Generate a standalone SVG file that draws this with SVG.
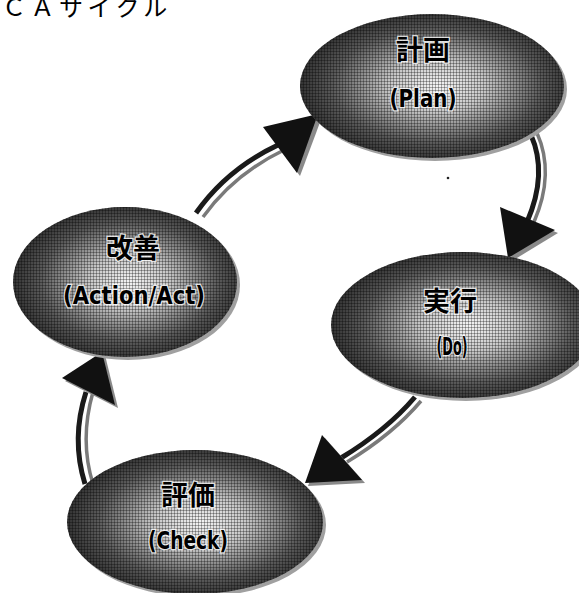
<svg xmlns="http://www.w3.org/2000/svg" width="579" height="593" viewBox="0 0 579 593">
<defs>
<radialGradient id="g" cx="0.52" cy="0.5" r="0.55">
<stop offset="0" stop-color="#f4f4f4"/>
<stop offset="0.32" stop-color="#c8c8c8"/>
<stop offset="0.72" stop-color="#5a5a5a"/>
<stop offset="1" stop-color="#2a2a2a"/>
</radialGradient>
<pattern id="hatch" width="3" height="3" patternUnits="userSpaceOnUse">
<rect x="0" y="0" width="3" height="1" fill="#000" opacity="0.3"/>
<rect x="0" y="0" width="1" height="3" fill="#000" opacity="0.3"/>
</pattern>
</defs>
<style>
.rim{fill:#a0a0a0}
.body{fill:url(#g)}
.tex{fill:url(#hatch)}
.jp{font-family:"Noto Sans CJK JP","Noto Sans",sans-serif;font-weight:bold;font-size:27px;fill:#000;stroke:#fff;stroke-width:2.5px;paint-order:stroke;stroke-opacity:0.8;text-anchor:middle}
.en{font-family:"DejaVu Sans Condensed","DejaVu Sans",sans-serif;font-weight:bold;font-size:24px;fill:#000;stroke:#fff;stroke-width:2.5px;paint-order:stroke;stroke-opacity:0.8;text-anchor:middle}
.title{font-family:"Noto Sans CJK JP",sans-serif;font-size:24px;fill:#000;letter-spacing:4.5px}
.dk{fill:none;stroke:#1a1a1a;stroke-width:5}
.gy{fill:none;stroke:#7a7a7a;stroke-width:3.5}
.head{fill:#111}
.hsh{fill:#8a8a8a}
</style>
<text class="title" x="2" y="16">ＣＡサイクル</text>
<g id="connectors">
<g id="a-act-plan">
<path class="gy" d="M203,217 Q234,174 284,150"/>
<path class="dk" d="M196,213 Q227,169 278,145"/>
<polygon class="hsh" points="266,130 322,117 300,176"/>
<polygon class="head" points="263,127 318,114 297,173"/>
</g>
<g id="a-plan-do">
<path class="gy" d="M537,133 C550,162 547,192 534,222"/>
<path class="dk" d="M531,135 C543,162 540,192 527,222"/>
<polygon class="hsh" points="503,210 558,233 512,261"/>
<polygon class="head" points="500,207 555,230 508,258"/>
</g>
<g id="a-do-check">
<path class="gy" d="M421,401 Q393,434 347,462"/>
<path class="dk" d="M415,397 Q387,430 341,458"/>
<polygon class="hsh" points="325,438 365,483 308,486"/>
<polygon class="head" points="322,435 362,480 305,483"/>
</g>
<g id="a-check-act">
<path class="gy" d="M93,484 C83,452 85,420 93,392"/>
<path class="dk" d="M85,484 C75,452 77,420 86,392"/>
<polygon class="hsh" points="65,381 118,408 105,355"/>
<polygon class="head" points="62,378 115,405 102,352"/>
</g>
<circle cx="448" cy="178" r="1.3" fill="#222"/>
</g>
<g id="plan">
<ellipse class="rim" cx="435" cy="89" rx="132" ry="72"/>
<ellipse class="body" cx="432" cy="86" rx="132" ry="72"/>
<ellipse class="tex" cx="432" cy="86" rx="132" ry="72"/>
<text class="jp" x="423" y="60">計画</text>
<text class="en" x="423" y="107" textLength="67" lengthAdjust="spacingAndGlyphs">(Plan)</text>
</g>
<g id="act">
<ellipse class="rim" cx="128" cy="285" rx="112" ry="75"/>
<ellipse class="body" cx="125" cy="282" rx="112" ry="75"/>
<ellipse class="tex" cx="125" cy="282" rx="112" ry="75"/>
<text class="jp" x="133" y="258">改善</text>
<text class="en" x="134" y="304" textLength="142" lengthAdjust="spacingAndGlyphs">(Action/Act)</text>
</g>
<g id="do">
<ellipse class="rim" cx="466" cy="328" rx="132" ry="73"/>
<ellipse class="body" cx="463" cy="325" rx="132" ry="73"/>
<ellipse class="tex" cx="463" cy="325" rx="132" ry="73"/>
<text class="jp" x="450" y="311">実行</text>
<text class="en" x="452" y="355" textLength="31" lengthAdjust="spacingAndGlyphs">(Do)</text>
</g>
<g id="check">
<ellipse class="rim" cx="198" cy="525" rx="128" ry="72"/>
<ellipse class="body" cx="195" cy="522" rx="128" ry="72"/>
<ellipse class="tex" cx="195" cy="522" rx="128" ry="72"/>
<text class="jp" x="188" y="505">評価</text>
<text class="en" x="188" y="549" textLength="80" lengthAdjust="spacingAndGlyphs">(Check)</text>
</g>
</svg>
